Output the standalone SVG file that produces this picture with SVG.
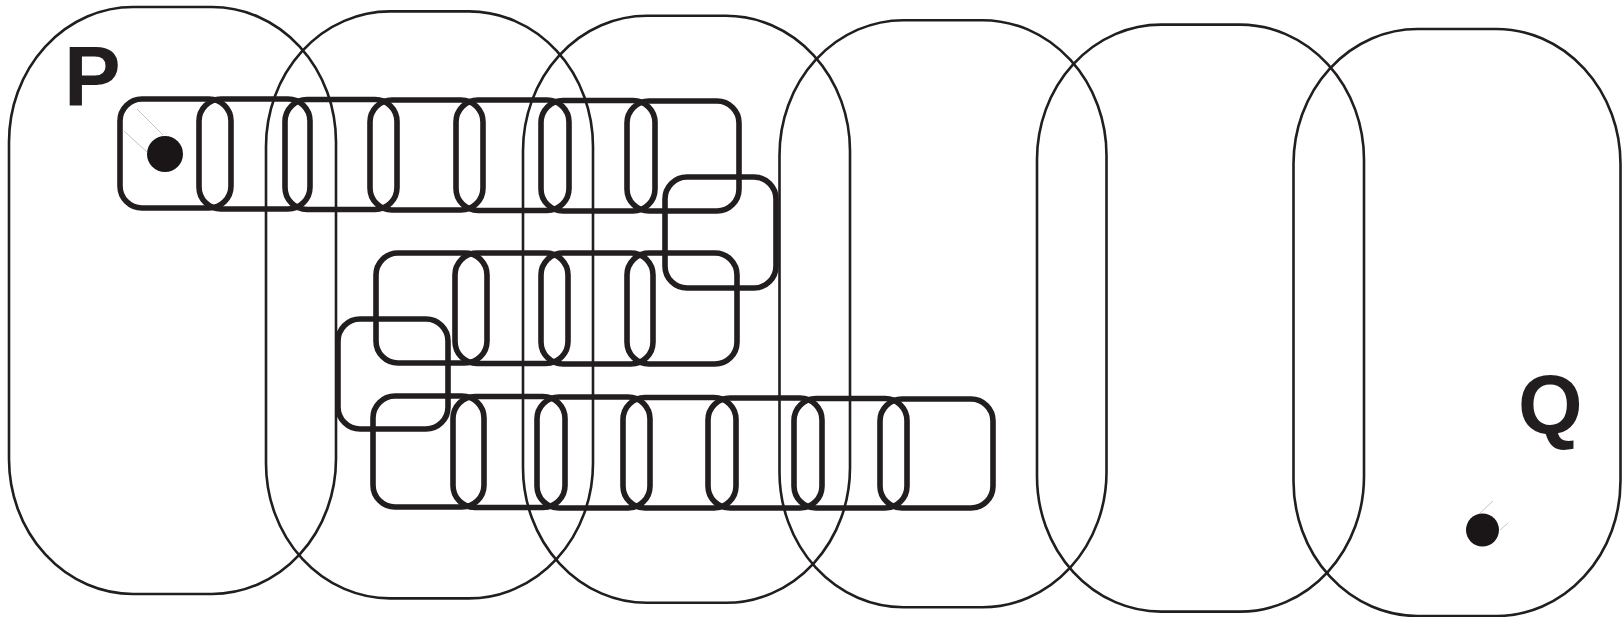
<svg xmlns="http://www.w3.org/2000/svg" width="1623" height="617" viewBox="0 0 1623 617">
<style>
.region{fill:none;stroke:#221e1f;stroke-width:2.6}
.link{fill:none;stroke:#221e1f;stroke-width:5.6}
.dot{fill:#1a1617}
.hl{stroke:#c4c4c4;stroke-width:1;fill:none}
.lbl{font-family:"Liberation Sans",Arial,sans-serif;font-weight:bold;fill:#221e1f}
</style>
<defs>
<path id="capsule" d="M124,0 H203 A124 135 0 0 1 327,135 V452 A124 135 0 0 1 203,587 H124 A124 135 0 0 1 0,452 V135 A124 135 0 0 1 124,0 Z"/>
</defs>
<g id="regions">
<g id="region-1"><use href="#capsule" class="region" x="9" y="7"/></g>
<g id="region-2"><use href="#capsule" class="region" x="266" y="11.4"/></g>
<g id="region-3"><use href="#capsule" class="region" x="523" y="15.8"/></g>
<g id="region-4"><use href="#capsule" class="region" x="779.5" y="20.2"/></g>
<g id="region-5"><use href="#capsule" class="region" x="1037" y="24.6"/></g>
<g id="region-6"><use href="#capsule" class="region" x="1293.5" y="29"/></g>
</g>
<g id="chain">
<g id="link-1"><rect class="link" x="120" y="99" width="111" height="109" rx="22"/></g>
<g id="link-2"><rect class="link" x="199" y="99" width="111" height="110" rx="22"/></g>
<g id="link-3"><rect class="link" x="285" y="99.5" width="112" height="110" rx="22"/></g>
<g id="link-4"><rect class="link" x="370" y="100" width="113" height="110" rx="22"/></g>
<g id="link-5"><rect class="link" x="456" y="100" width="113" height="110.5" rx="22"/></g>
<g id="link-6"><rect class="link" x="541" y="100.5" width="114" height="110.5" rx="22"/></g>
<g id="link-7"><rect class="link" x="627" y="101" width="112" height="110" rx="22"/></g>
<g id="link-8"><rect class="link" x="665" y="177" width="111" height="111" rx="22"/></g>
<g id="link-9"><rect class="link" x="627" y="253" width="110" height="111" rx="22"/></g>
<g id="link-10"><rect class="link" x="541" y="253" width="112" height="111" rx="22"/></g>
<g id="link-11"><rect class="link" x="455" y="253" width="113" height="110.5" rx="22"/></g>
<g id="link-12"><rect class="link" x="376" y="253" width="111" height="110" rx="22"/></g>
<g id="link-13"><rect class="link" x="338" y="319" width="110" height="110" rx="22"/></g>
<g id="link-14"><rect class="link" x="373" y="396" width="111" height="111" rx="22"/></g>
<g id="link-15"><rect class="link" x="453" y="396.5" width="112" height="111" rx="22"/></g>
<g id="link-16"><rect class="link" x="537" y="397" width="113" height="111" rx="22"/></g>
<g id="link-17"><rect class="link" x="623" y="397.5" width="113" height="110.5" rx="22"/></g>
<g id="link-18"><rect class="link" x="708" y="398" width="114" height="110" rx="22"/></g>
<g id="link-19"><rect class="link" x="794" y="398.5" width="113" height="109.5" rx="22"/></g>
<g id="link-20"><rect class="link" x="880" y="399" width="113" height="109" rx="22"/></g>
</g>
<g id="point-P">
<line class="hl" x1="137" y1="109" x2="163" y2="135"/>
<line class="hl" x1="124" y1="131" x2="147" y2="152"/>
<circle class="dot" cx="165" cy="154" r="18"/>
<text class="lbl" x="64" y="106" font-size="85">P</text>
</g>
<g id="point-Q">
<line class="hl" x1="1480" y1="513" x2="1493" y2="501"/>
<line class="hl" x1="1500" y1="530" x2="1508" y2="523"/>
<circle class="dot" cx="1482.5" cy="530" r="16.5"/>
<text class="lbl" x="1518" y="434" font-size="83">Q</text>
</g>
</svg>
